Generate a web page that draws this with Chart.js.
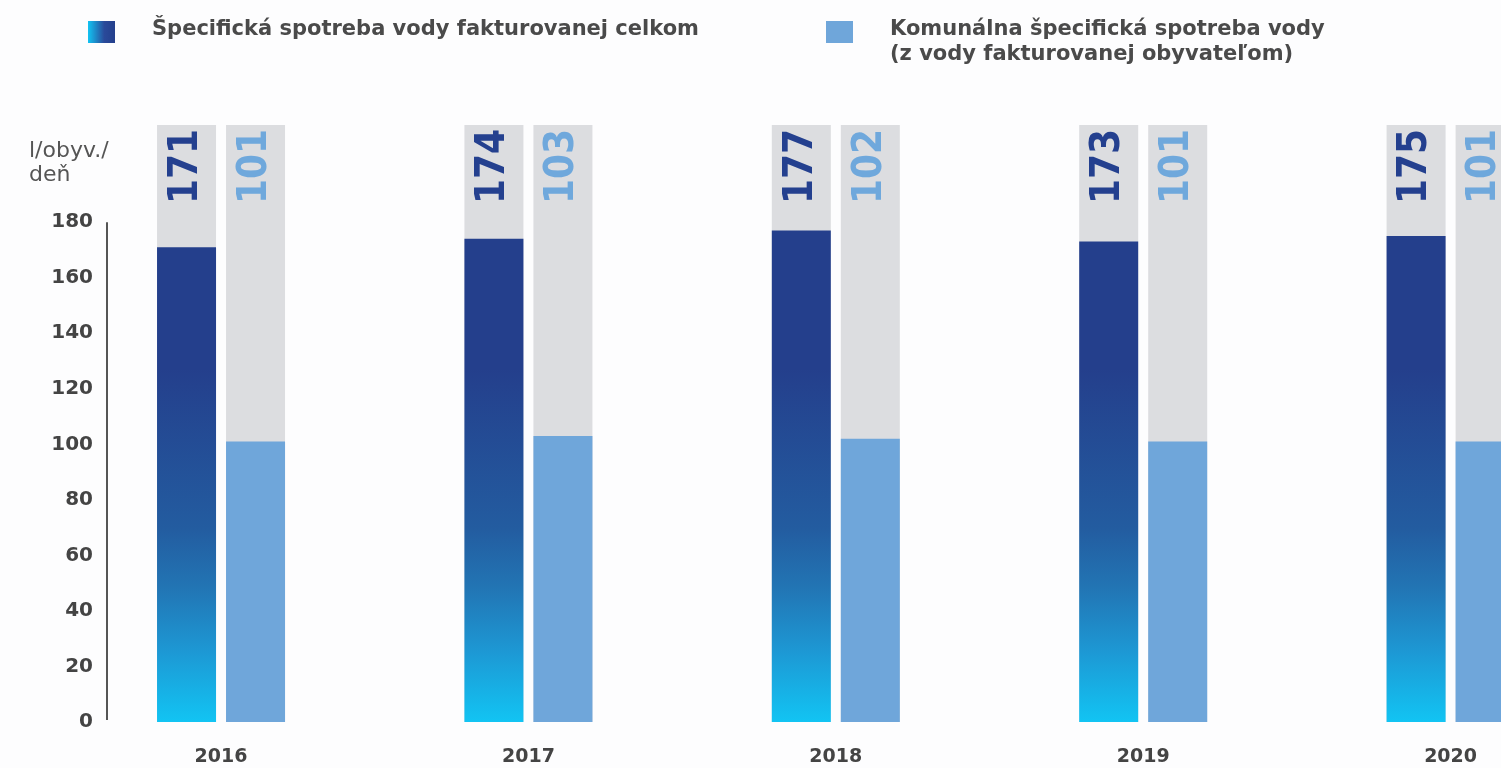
<!DOCTYPE html>
<html>
<head>
<meta charset="utf-8">
<script src="https://cdn.jsdelivr.net/npm/chart.js@4.4.0/dist/chart.umd.min.js"></script>
<style>
  html, body { margin: 0; padding: 0; background: #fff; overflow: hidden; }
  #wrap { position: relative; width: 1501px; height: 768px; background: #fdfdfe; }
  #mychart { position: absolute; left: 0; top: 0; }
  .legend-item { position: absolute; font: bold 21px 'DejaVu Sans', sans-serif; color: #4a4a4a; line-height: 25px; }
  .legend-box { position: absolute; width: 27px; height: 22px; }
  #ytitle { position: absolute; left: 29px; top: 138px; font: 22px 'DejaVu Sans', sans-serif; color: #555; line-height: 24px; }
</style>
</head>
<body>
<div id="wrap">
  <canvas id="mychart" width="1501" height="768"></canvas>
  <div id="legend"></div>
  <div id="ytitle">l/obyv./<br>deň</div>
</div>
<script>
// data
var years = [2016, 2017, 2018, 2019, 2020];
var totalUse = [171, 174, 177, 173, 175];       // specific consumption, all billed water
var municipalUse = [101, 103, 102, 101, 101];   // municipal (households)
var yTicks = [0, 20, 40, 60, 80, 100, 120, 140, 160, 180];
var seriesNames = [
  'Špecifická spotreba vody fakturovanej celkom',
  'Komunálna špecifická spotreba vody\n(z vody fakturovanej obyvateľom)'
];

// legend (html, second label is two lines)
var legendDiv = document.getElementById('legend');
var legendSpots = [{ box: 88, text: 152 }, { box: 826, text: 890 }];
var legendFills = ['linear-gradient(to right, #12c4f3, #2a4a9a 60%, #243f8c)', '#6fa6da'];

for (var i = 0; i < seriesNames.length; i++) {
  var box = document.createElement('div');
  box.className = 'legend-box';
  box.style.left = legendSpots[i].box + 'px';
  box.style.top = '21px';
  box.style.background = legendFills[i];
  legendDiv.appendChild(box);

  var txt = document.createElement('div');
  txt.className = 'legend-item';
  txt.style.left = legendSpots[i].text + 'px';
  txt.style.top = '16px';
  txt.innerHTML = seriesNames[i].replace('\n', '<br>');
  legendDiv.appendChild(txt);
}

function barGradient(context) {
  var chart = context.chart;
  if (!chart.chartArea) return '#243f8c';
  var y = chart.scales.y;
  var g = chart.ctx.createLinearGradient(0, y.getPixelForValue(0), 0, y.getPixelForValue(127));
  g.addColorStop(0, '#12c4f3');
  g.addColorStop(0.2, '#1d98d4');
  g.addColorStop(0.38, '#2275b4');
  g.addColorStop(0.55, '#235ca0');
  g.addColorStop(1, '#243f8c');
  return g;
}

// grey track behind every bar, up to the top of the plot
var trackPlugin = {
  id: 'tracks',
  beforeDatasetsDraw: function(chart) {
    var ctx = chart.ctx, area = chart.chartArea;
    ctx.save();
    ctx.fillStyle = '#dcdde0';
    chart.data.datasets.forEach(function(ds, i) {
      chart.getDatasetMeta(i).data.forEach(function(bar) {
        ctx.fillRect(bar.x - bar.width / 2, area.top, bar.width, bar.base - area.top);
      });
    });
    ctx.restore();
  }
};

// rotated value at top of each track
var valuePlugin = {
  id: 'values',
  afterDatasetsDraw: function(chart) {
    var ctx = chart.ctx, area = chart.chartArea;
    ctx.save();
    ctx.font = "bold 40px 'DejaVu Sans Condensed', 'DejaVu Sans', sans-serif";
    ctx.textAlign = 'right';
    ctx.textBaseline = 'middle';
    chart.data.datasets.forEach(function(ds, i) {
      chart.getDatasetMeta(i).data.forEach(function(bar, j) {
        ctx.save();
        ctx.translate(bar.x, area.top + 4);
        ctx.rotate(-Math.PI / 2);
        ctx.fillStyle = ds.textColor;
        ctx.fillText(String(ds.data[j]), 0, 0);
        ctx.restore();
      });
    });
    ctx.restore();
  }
};

// y axis line only between 0 and 180
var axisLinePlugin = {
  id: 'axisLine',
  afterDraw: function(chart) {
    var ctx = chart.ctx, y = chart.scales.y;
    var x = chart.chartArea.left;
    ctx.save();
    ctx.strokeStyle = '#555';
    ctx.lineWidth = 2;
    ctx.beginPath();
    ctx.moveTo(x, y.getPixelForValue(yTicks[yTicks.length - 1]));
    ctx.lineTo(x, y.getPixelForValue(0) - 2);
    ctx.stroke();
    ctx.restore();
  }
};

var tickFont = { family: 'DejaVu Sans', weight: 'bold', size: 20 };

var myChart = new Chart(document.getElementById('mychart'), {
  type: 'bar',
  data: {
    labels: years,
    datasets: [
      {
        label: seriesNames[0],
        data: totalUse,
        backgroundColor: barGradient,
        textColor: '#24408f',
        categoryPercentage: 0.449,
        barPercentage: 0.855
      },
      {
        label: seriesNames[1],
        data: municipalUse,
        backgroundColor: '#6fa6da',
        textColor: '#6fa8dc',
        categoryPercentage: 0.449,
        barPercentage: 0.855
      }
    ]
  },
  options: {
    responsive: false,
    animation: false,
    layout: { padding: { top: 125, left: 0, right: 0, bottom: 0 } },
    plugins: {
      legend: { display: false },
      tooltip: { enabled: false }
    },
    scales: {
      x: {
        type: 'linear',
        min: 2015.629,
        max: 2020.164,
        offset: false,
        grid: { display: false },
        border: { display: false },
        afterBuildTicks: function(s) { s.ticks = years.map(function(v) { return { value: v }; }); },
        afterFit: function(s) { s.height = 46; },
        ticks: {
          padding: 16,
          autoSkip: false,
          maxRotation: 0,
          color: '#444',
          font: { family: 'DejaVu Sans', weight: 'bold', size: 19 },
          callback: function(v) { return String(v); }
        }
      },
      y: {
        min: 0,
        max: 215,
        grid: { display: false },
        border: { display: false },
        afterBuildTicks: function(s) { s.ticks = yTicks.map(function(v) { return { value: v }; }); },
        afterFit: function(s) { s.width = 107; },
        ticks: { padding: 6, color: '#444', font: tickFont }
      }
    }
  },
  plugins: [trackPlugin, valuePlugin, axisLinePlugin]
});
</script>
</body>
</html>
